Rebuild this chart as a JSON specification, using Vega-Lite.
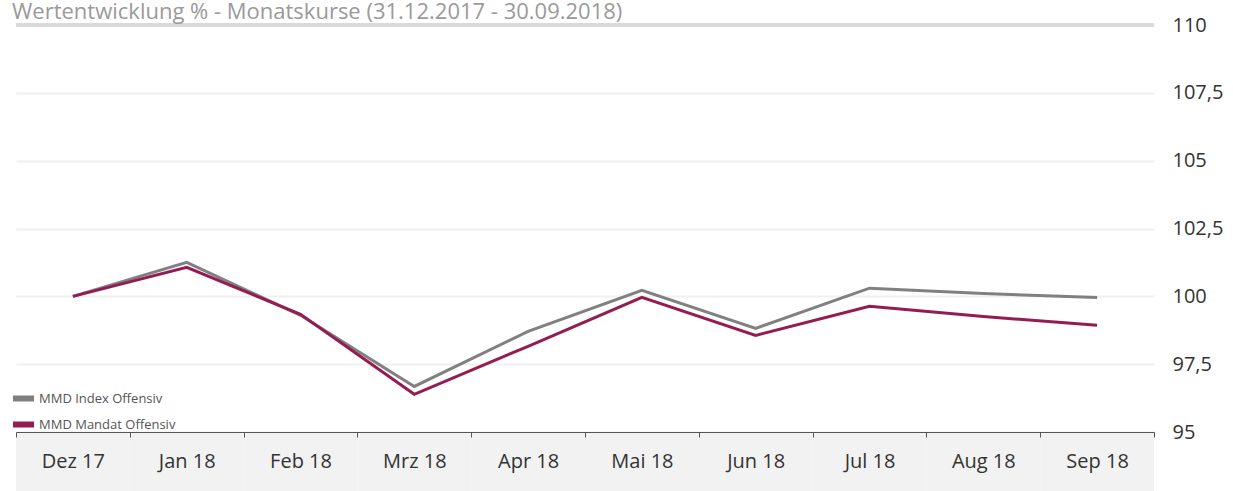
{
  "$schema": "https://vega.github.io/schema/vega-lite/v6.json",
  "width": 1138,
  "height": 407,
  "autosize": "none",
  "padding": {"left": 16, "top": 25, "right": 79, "bottom": 59},
  "background": "white",
  "title": {
    "text": "Wertentwicklung % - Monatskurse (31.12.2017 - 30.09.2018)",
    "anchor": "start",
    "frame": "group",
    "dx": -4,
    "offset": -26,
    "baseline": "alphabetic",
    "font": "Open Sans",
    "fontSize": 22,
    "fontWeight": "normal",
    "color": "#9a9a9a"
  },
  "config": {
    "view": {"stroke": null},
    "font": "Open Sans"
  },
  "data": {
    "values": [
      {"month": "Dez 17", "series": "MMD Index Offensiv", "value": 100.0},
      {"month": "Jan 18", "series": "MMD Index Offensiv", "value": 101.25},
      {"month": "Feb 18", "series": "MMD Index Offensiv", "value": 99.3},
      {"month": "Mrz 18", "series": "MMD Index Offensiv", "value": 96.68},
      {"month": "Apr 18", "series": "MMD Index Offensiv", "value": 98.71},
      {"month": "Mai 18", "series": "MMD Index Offensiv", "value": 100.22},
      {"month": "Jun 18", "series": "MMD Index Offensiv", "value": 98.82},
      {"month": "Jul 18", "series": "MMD Index Offensiv", "value": 100.3},
      {"month": "Aug 18", "series": "MMD Index Offensiv", "value": 100.1},
      {"month": "Sep 18", "series": "MMD Index Offensiv", "value": 99.96},
      {"month": "Dez 17", "series": "MMD Mandat Offensiv", "value": 100.0},
      {"month": "Jan 18", "series": "MMD Mandat Offensiv", "value": 101.07},
      {"month": "Feb 18", "series": "MMD Mandat Offensiv", "value": 99.34},
      {"month": "Mrz 18", "series": "MMD Mandat Offensiv", "value": 96.39},
      {"month": "Apr 18", "series": "MMD Mandat Offensiv", "value": 98.16},
      {"month": "Mai 18", "series": "MMD Mandat Offensiv", "value": 99.96},
      {"month": "Jun 18", "series": "MMD Mandat Offensiv", "value": 98.56},
      {"month": "Jul 18", "series": "MMD Mandat Offensiv", "value": 99.63},
      {"month": "Aug 18", "series": "MMD Mandat Offensiv", "value": 99.26},
      {"month": "Sep 18", "series": "MMD Mandat Offensiv", "value": 98.93}
    ]
  },
  "layer": [
    {
      "transform": [{"filter": "datum.series === 'MMD Index Offensiv'"}],
      "mark": {"type": "rect", "color": "#f2f2f2", "clip": false},
      "encoding": {
        "x": {
          "field": "month",
          "type": "ordinal",
          "sort": null,
          "scale": {"paddingInner": 0, "paddingOuter": 0},
          "axis": {
            "title": null,
            "tickBand": "extent",
            "labelAngle": 0,
            "labelFontSize": 20,
            "labelColor": "#333333",
            "labelPadding": 14,
            "tickSize": 5,
            "tickColor": "#555555",
            "domainColor": "#555555",
            "domainWidth": 1,
            "grid": false,
            "zindex": 2
          }
        },
        "y": {"datum": 95, "type": "quantitative"},
        "y2": {"datum": 92.8}
      }
    },
    {
      "mark": {"type": "rule", "color": "#d9d9d9", "strokeWidth": 3},
      "encoding": {"y": {"datum": 110, "type": "quantitative"}}
    },
    {
      "mark": {"type": "line", "strokeWidth": 3},
      "encoding": {
        "x": {"field": "month", "type": "ordinal", "sort": null},
        "y": {
          "field": "value",
          "type": "quantitative",
          "scale": {"domain": [95, 110], "nice": false, "zero": false},
          "axis": {
            "orient": "right",
            "title": null,
            "values": [95, 97.5, 100, 102.5, 105, 107.5, 110],
            "labelExpr": "replace(format(datum.value, '~f'), '.', ',')",
            "labelFontSize": 20,
            "labelColor": "#333333",
            "labelPadding": 18,
            "ticks": false,
            "domain": false,
            "grid": true,
            "gridColor": "#f0f0f0",
            "gridWidth": 2
          }
        },
        "color": {
          "field": "series",
          "type": "nominal",
          "scale": {
            "domain": ["MMD Index Offensiv", "MMD Mandat Offensiv"],
            "range": ["#808080", "#951c51"]
          },
          "legend": {
            "title": null,
            "orient": "none",
            "legendX": -6,
            "legendY": 360,
            "padding": 0,
            "symbolType": "stroke",
            "symbolSize": 441,
            "symbolStrokeWidth": 6,
            "labelFontSize": 13,
            "labelColor": "#555555",
            "labelOffset": 2,
            "rowPadding": -4
          }
        }
      }
    }
  ]
}
